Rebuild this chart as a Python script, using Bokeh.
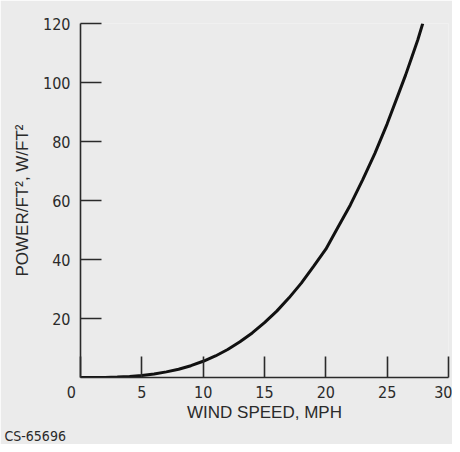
from bokeh.plotting import figure
from bokeh.models import Range1d, FixedTicker
from bokeh.embed import file_html
from bokeh.resources import INLINE

# Data
wind_speed_mph = [0, 1, 2, 3, 4, 5, 6, 7, 8, 9, 10, 11, 12, 13, 14, 15, 16, 17,
                  18, 19, 20, 21, 22, 23, 24, 25, 26, 26.5, 27, 27.5, 27.9]
power_w_ft2 = [0, 0.01, 0.04, 0.15, 0.35, 0.7, 1.2, 1.9, 2.8, 4.0, 5.5, 7.3, 9.5,
               12.1, 15.1, 18.6, 22.5, 27.0, 32.0, 37.7, 43.5, 51, 58.5, 67, 76,
               86, 97, 102.5, 108.5, 114.5, 120]
x_ticks = [0, 5, 10, 15, 20, 25, 30]
x_tick_labels = {0: "0\u2007\u2007", 5: "5", 10: "10", 15: "15", 20: "20", 25: "25", 30: "30"}
y_ticks = [20, 40, 60, 80, 100, 120]

FONT = "DejaVu Sans Condensed"
BG = "#ebebeb"
INK = "#2a2a2a"

p = figure(width=452, height=444, output_backend="svg", toolbar_location=None,
           x_range=Range1d(0, 30), y_range=Range1d(0, 120),
           min_border_left=80, min_border_right=4, min_border_top=23, min_border_bottom=60,
           title="CS-65696", title_location="below")
p.background_fill_color = BG
p.border_fill_color = BG
p.outline_line_color = None
p.grid.visible = False

p.title.align = "left"
p.title.offset = -76
p.title.text_font = FONT
p.title.text_font_size = "14px"
p.title.text_font_style = "normal"
p.title.text_color = INK
p.title.standoff = 2

p.line(wind_speed_mph, power_w_ft2, line_color="#111111", line_width=3)

for ax in (p.xaxis[0], p.yaxis[0]):
    ax.axis_line_color = INK
    ax.axis_line_width = 1.6
    ax.major_tick_line_color = INK
    ax.major_tick_line_width = 1.6
    ax.major_tick_in = 21
    ax.major_tick_out = 0
    ax.minor_tick_line_color = None
    ax.major_label_text_font = FONT
    ax.major_label_text_font_size = "16px"
    ax.major_label_text_color = INK
    ax.axis_label_text_color = INK
    ax.axis_label_text_font_style = "normal"

p.xaxis.ticker = FixedTicker(ticks=x_ticks)
p.xaxis.major_label_overrides = x_tick_labels
p.yaxis.ticker = FixedTicker(ticks=y_ticks)
p.xaxis.major_label_standoff = 5
p.yaxis.major_label_standoff = 10
p.xaxis.axis_label = "WIND SPEED, MPH"
p.xaxis.axis_label_text_font = "Liberation Sans"
p.xaxis.axis_label_text_font_size = "17px"
p.xaxis.axis_label_standoff = -2
p.yaxis.axis_label = "POWER/FT², W/FT²"
p.yaxis.axis_label_text_font = "Liberation Sans"
p.yaxis.axis_label_text_font_size = "17px"
p.yaxis.axis_label_standoff = 8

open("out.html", "w").write(file_html(p, INLINE))
